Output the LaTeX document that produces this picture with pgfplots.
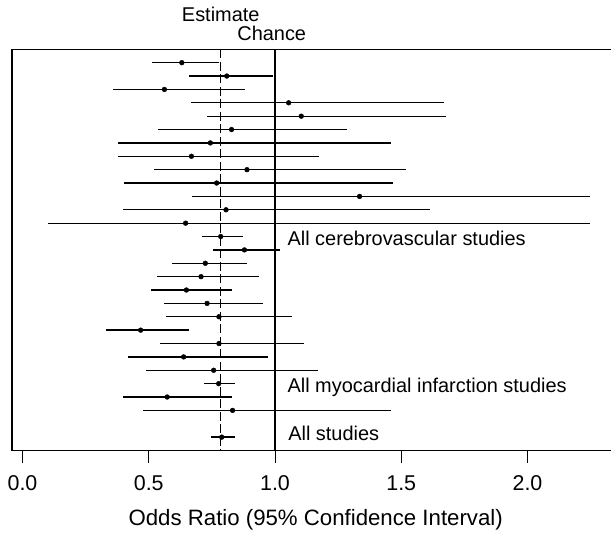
\documentclass[border=0pt]{standalone}
\usepackage{fontspec}
\setmainfont{Liberation Sans}
\usepackage{pgfplots}
\usepackage{pgfplotstable}
\pgfplotsset{compat=1.18}

% row (top = 1), odds ratio, lower and upper 95% limits
\pgfplotstableread{
row or    lo    hi
1   0.631 0.513 0.780
2   0.809 0.661 0.993
3   0.562 0.359 0.881
4   1.054 0.666 1.670
5   1.104 0.729 1.677
6   0.828 0.535 1.284
7   0.744 0.377 1.458
8   0.669 0.379 1.176
9   0.889 0.521 1.519
10  0.769 0.403 1.466
11  1.335 0.670 2.248
12  0.806 0.397 1.614
13  0.646 0.102 2.248
14  0.785 0.710 0.874
15  0.879 0.756 1.020
16  0.724 0.592 0.888
17  0.707 0.533 0.937
18  0.649 0.508 0.831
19  0.731 0.562 0.953
20  0.778 0.569 1.066
21  0.468 0.331 0.658
22  0.778 0.544 1.113
23  0.638 0.417 0.973
24  0.757 0.488 1.170
25  0.777 0.717 0.843
26  0.573 0.399 0.828
27  0.832 0.477 1.461
29  0.789 0.745 0.843
}\oddsdata

\begin{document}
\begin{tikzpicture}[font=\fontsize{20}{24}\selectfont]
\useasboundingbox (0,0) rectangle (611bp,536bp);
\begin{axis}[
    at={(12bp,85.5bp)}, anchor=south west,
    scale only axis, width=599bp, height=401.2bp,
    xmin=-0.0416, xmax=2.3307, ymin=0, ymax=30, y dir=reverse,
    clip=false,
    axis line style={draw=none},
    xtick={0,0.5,1,1.5,2}, xticklabels={0.0,0.5,1.0,1.5,2.0},
    ytick=\empty,
    xtick pos=bottom, tick align=outside, major tick length=12bp,
    tick style={black, line width=1bp},
    xticklabel style={anchor=base, yshift=-27.5bp, font=\fontsize{21.5}{25}\selectfont},
    xlabel={Odds Ratio (95\% Confidence Interval)},
    xlabel style={at={(axis description cs:0.507,0)}, anchor=base, yshift=-75bp,
      font=\fontsize{22.3}{26}\selectfont},
  ]
  % frame
  \draw[line width=1.8bp] (axis cs:-0.0416,0) -- (axis cs:-0.0416,30) -- (axis cs:2.3307,30);
  \draw[line width=1.2bp] (axis cs:-0.0416,0) -- (axis cs:2.3307,0);
  % reference lines
  \draw[line width=1.2bp, dash pattern=on 9bp off 3.5bp] (axis cs:0.785,0) -- (axis cs:0.785,30);
  \draw[line width=1.2bp] (axis cs:1,0) -- (axis cs:1,30);

  \addplot[black, only marks, mark=*, mark size=2.4bp,
    error bars/.cd, x dir=both, x explicit, error mark=none,
    error bar style={line width=1.3bp}]
    table[x=or, y=row,
      x error plus expr=\thisrow{hi}-\thisrow{or},
      x error minus expr=\thisrow{or}-\thisrow{lo}] {\oddsdata};

  \node[anchor=base, inner sep=0] at (axis cs:0.785,-2.07) {Estimate};
  \node[anchor=base, inner sep=0] at (axis cs:0.987,-0.645) {Chance};
  \node[anchor=base west, inner sep=0] at (axis cs:1.049,14.68) {All cerebrovascular studies};
  \node[anchor=base west, inner sep=0] at (axis cs:1.049,25.69) {All myocardial infarction studies};
  \node[anchor=base west, inner sep=0] at (axis cs:1.052,29.23) {All studies};
\end{axis}
\end{tikzpicture}
\end{document}
